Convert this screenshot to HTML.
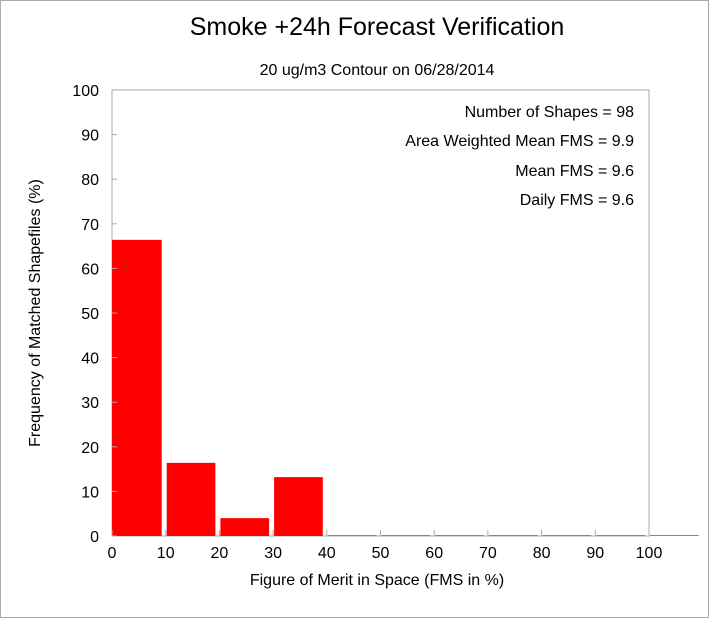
<!DOCTYPE html>
<html><head><meta charset="utf-8"><style>
body{margin:0;background:#fff;}
svg{display:block;font-family:"Liberation Sans",Arial,sans-serif;}
</style></head><body>
<svg id="chart" width="710" height="618" viewBox="0 0 710 618">
<rect x="0.5" y="0.5" width="708" height="617" fill="#fff" stroke="#aaa"/>
<text x="377" y="35" font-size="25" text-anchor="middle">Smoke +24h Forecast Verification</text>
<text x="377" y="75" font-size="16" text-anchor="middle">20 ug/m3 Contour on 06/28/2014</text>
<rect x="112" y="90" width="537" height="446" fill="none" stroke="#aaa"/>
<g id="bars"></g>
<g id="xticks"></g>
<g id="yticks"></g>
<text x="377" y="585" font-size="16" text-anchor="middle">Figure of Merit in Space (FMS in %)</text>
<text transform="translate(40,313) rotate(-90)" font-size="16" text-anchor="middle">Frequency of Matched Shapefiles (%)</text>
<g font-size="16" text-anchor="end">
<text x="634" y="117">Number of Shapes = 98</text>
<text x="634" y="146">Area Weighted Mean FMS = 9.9</text>
<text x="634" y="176">Mean FMS = 9.6</text>
<text x="634" y="205">Daily FMS = 9.6</text>
</g>
</svg>
<script>
const binStarts = [0,10,20,30,40,50,60,70,80,90,100];
const freqValues = [66.4,16.4,4.0,13.2,0,0,0,0,0,0,0];
const xTickLabels = [0,10,20,30,40,50,60,70,80,90,100];
const yTickLabels = [0,10,20,30,40,50,60,70,80,90,100];
const NS='http://www.w3.org/2000/svg';
const x = v => 112 + v*5.37;
const y = v => 536 - v*4.46;
const bars = document.getElementById('bars');
binStarts.forEach((b,i)=>{
  const v = freqValues[i];
  const r = document.createElementNS(NS,'rect');
  const h = Math.max(y(0)-y(v),1);
  r.setAttribute('x', x(b)+(i===0?0:1));
  r.setAttribute('y', y(0)-h);
  r.setAttribute('width', x(b+10)-x(b)-(i===0?4:5));
  r.setAttribute('height', h);
  r.setAttribute('fill', v>0?'#ff0000':'#e06060');
  
  
  bars.appendChild(r);
});
const xt = document.getElementById('xticks');
xTickLabels.forEach(t=>{
  const l = document.createElementNS(NS,'line');
  l.setAttribute('x1',x(t));l.setAttribute('x2',x(t));
  l.setAttribute('y1',536);l.setAttribute('y2',530);
  l.setAttribute('stroke','#aaa');
  
  
  xt.appendChild(l);
  const tx = document.createElementNS(NS,'text');
  tx.setAttribute('x',x(t));tx.setAttribute('y',558);
  tx.setAttribute('font-size','16');tx.setAttribute('text-anchor','middle');
  tx.textContent=t;
  
  
  xt.appendChild(tx);
});
const yt = document.getElementById('yticks');
yTickLabels.forEach(t=>{
  const l = document.createElementNS(NS,'line');
  l.setAttribute('x1',112);l.setAttribute('x2',117);
  l.setAttribute('y1',y(t));l.setAttribute('y2',y(t));
  l.setAttribute('stroke','#aaa');
  
  
  yt.appendChild(l);
  const tx = document.createElementNS(NS,'text');
  tx.setAttribute('x',99);tx.setAttribute('y',y(t)+6);
  tx.setAttribute('font-size','16');tx.setAttribute('text-anchor','end');
  tx.textContent=t;
  
  
  yt.appendChild(tx);
});
</script>
</body></html>
